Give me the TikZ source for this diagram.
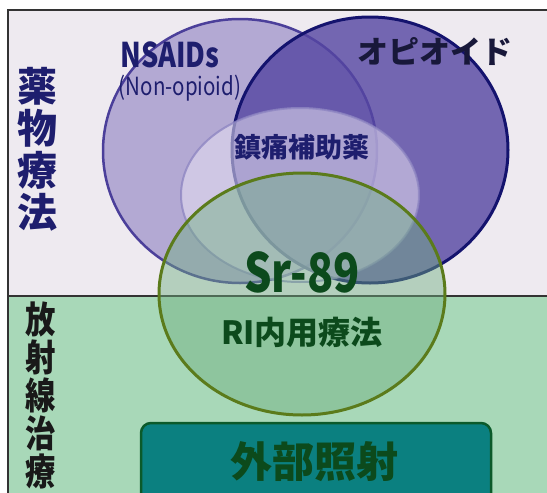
\documentclass[tikz,border=0pt]{standalone}
\usepackage{fontspec}
\newfontfamily\jp{Noto Sans CJK JP}
\definecolor{topbg}{HTML}{EEEAF0}
\definecolor{botbg}{HTML}{A8D8B8}
\definecolor{nsfill}{HTML}{8C7EC0}
\definecolor{nsline}{HTML}{4B3F9A}
\definecolor{opfill}{HTML}{5546A2}
\definecolor{opline}{HTML}{14136E}
\definecolor{adfill}{HTML}{E6E0F2}
\definecolor{adline}{HTML}{8E86C2}
\definecolor{srfill}{HTML}{6FAF80}
\definecolor{srline}{HTML}{5B7B1B}
\definecolor{boxfill}{HTML}{0B8080}
\definecolor{boxline}{HTML}{0B5A2A}
\definecolor{frame}{HTML}{333333}
\definecolor{navy}{HTML}{1E1E6E}
\definecolor{darkgreen}{HTML}{0C4A1C}
\definecolor{opitext}{HTML}{18183A}
\tikzset{
  lbl/.style={inner sep=0pt, font=\jp\bfseries},
}
\begin{document}
\begin{tikzpicture}[x=1pt,y=-1pt]
\useasboundingbox (0,0) rectangle (547,493);
\fill[white] (0,0) rectangle (547,493);
\fill[topbg] (8,10) rectangle (547,296);
\fill[botbg] (8,296) rectangle (547,493);
% NSAIDs
\path[fill=nsfill, fill opacity=0.6, draw=nsline, line width=2.5pt] (240,151) ellipse [x radius=137pt, y radius=132pt];
% opioid
\path[fill=opfill, fill opacity=0.8, draw=opline, line width=3pt] (370,150) ellipse [x radius=138pt, y radius=133pt];
% adjuvant
\path[fill=adfill, fill opacity=0.55, draw=adline, draw opacity=0.8, line width=2pt] (300,195) ellipse [x radius=119pt, y radius=87pt];
% frame
\draw[frame, line width=2pt] (547,10) -- (8,10) -- (8,493);
\draw[frame, line width=2pt] (8,296) -- (547,296);
% Sr-89 circle
\path[fill=srfill, fill opacity=0.45, draw=srline, line width=3pt] (302,294) ellipse [x radius=143pt, y radius=121pt];
% external box
\draw[fill=boxfill, draw=boxline, line width=2.5pt, rounded corners=10pt] (141,423) rectangle (491,505);
% texts
\node[lbl, text=navy, align=center, font=\jp\bfseries\fontsize{40}{42}\selectfont] (yaku) at (37,149) {薬\\物\\療\\法};
\node[lbl, text=black!90, align=center, anchor=north, xscale=0.82, font=\jp\bfseries\fontsize{37}{38}\selectfont] (hosha) at (41,302) {放\\射\\線\\治\\療};
\node[lbl, text=navy, xscale=0.8, font=\jp\bfseries\fontsize{34}{34}\selectfont] (ns) at (170,55) {NSAIDs};
\node[lbl, text=navy, xscale=0.82, font=\jp\fontsize{25}{25}\selectfont] (nonop) at (180,88) {(Non-opioid)};
\node[lbl, text=opitext, font=\jp\bfseries\fontsize{31}{31}\selectfont] (op) at (435,51) {オピオイド};
\node[lbl, text=navy, font=\jp\bfseries\fontsize{27}{27}\selectfont] (ad) at (302,147) {鎮痛補助薬};
\node[lbl, text=darkgreen, xscale=0.8, font=\jp\bfseries\fontsize{54}{54}\selectfont] (sr) at (302,272) {Sr-89};
\node[lbl, text=darkgreen, font=\jp\bfseries\fontsize{32}{32}\selectfont] (ri) at (302,332) {RI内用療法};
\node[lbl, text=darkgreen, font=\jp\bfseries\fontsize{42}{42}\selectfont] (ext) at (314,462) {外部照射};
\end{tikzpicture}
\end{document}
